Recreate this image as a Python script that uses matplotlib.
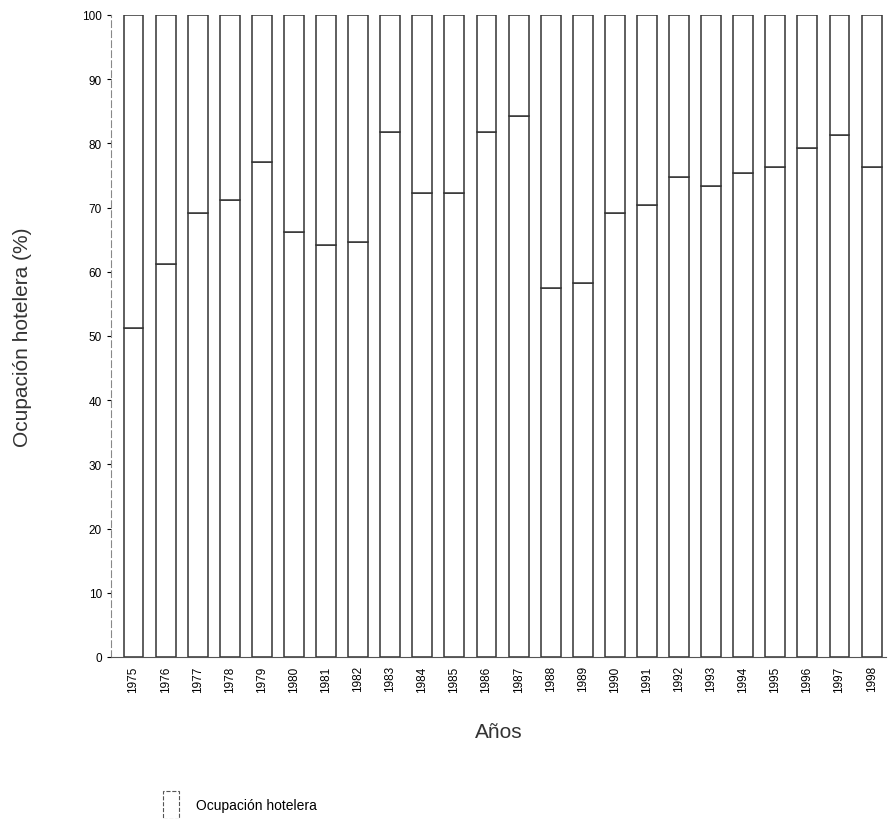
import numpy as np
import matplotlib.pyplot as plt
from matplotlib.patches import Patch

plt.rcParams['font.family'] = ['Liberation Sans', 'DejaVu Sans']

years = [str(y) for y in range(1975, 1999)]
ocupacion = [51.3, 61.2, 69.2, 71.2, 77.1, 66.2, 64.2, 64.7, 81.8, 72.3, 72.3, 81.8,
             84.2, 57.4, 58.3, 69.2, 70.4, 74.7, 73.4, 75.4, 76.3, 79.3, 81.3, 76.3]
resto = [100 - v for v in ocupacion]

fig = plt.figure(figsize=(8.89, 8.2), dpi=100)
W, H = 889, 820
ax = fig.add_axes([111 / W, 1 - 658 / H, (886 - 111) / W, (658 - 16) / H])

x = np.arange(len(years))
ax.bar(x, ocupacion, width=0.62, color="white", edgecolor="#333333", linewidth=1.1)
ax.bar(x, resto, bottom=ocupacion, width=0.62, color="white", edgecolor="#333333", linewidth=1.1)

ax.set_xlim(-0.70, 23.45)
ax.set_ylim(0, 100)
ax.set_yticks(range(0, 101, 10))
ax.set_xticks(x)
ax.set_xticklabels(years, rotation=90, fontsize=8.5)
ax.tick_params(axis="y", labelsize=8.5, length=3, width=0.8)
ax.tick_params(axis="x", length=0, pad=6)
for s in ["top", "right"]:
    ax.spines[s].set_visible(False)
ax.spines["left"].set_color("#888888")
ax.spines["left"].set_linestyle((0, (6, 3)))
ax.spines["left"].set_linewidth(0.8)
ax.spines["bottom"].set_color("#555555")
ax.spines["bottom"].set_linewidth(0.8)

ax.set_ylabel("Ocupación hotelera (%)", fontsize=15, labelpad=36, color="#333333")
ax.set_xlabel("Años", fontsize=15, labelpad=22, color="#333333")

fig.legend(handles=[Patch(facecolor="white", edgecolor="#555555", linestyle="--", linewidth=0.8)],
           labels=["Ocupación hotelera"], loc="center left",
           bbox_to_anchor=(150 / W, 1 - 806 / H), frameon=False, fontsize=10,
           handlelength=1.2, handleheight=2.8, handletextpad=1.2)

fig.savefig("out.png", dpi=100)
